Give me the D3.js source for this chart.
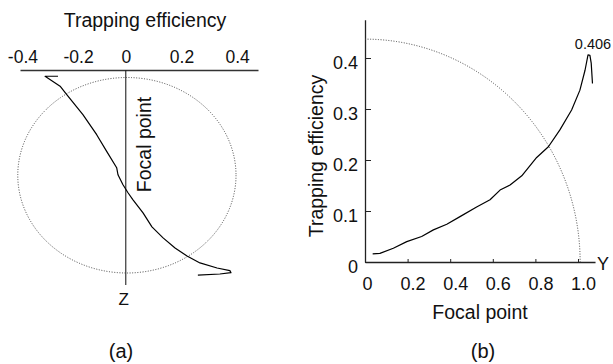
<!DOCTYPE html>
<html>
<head>
<meta charset="utf-8">
<script src="https://cdn.jsdelivr.net/npm/d3@7"></script>
<style>
  body { margin: 0; background: #fff; }
  svg text { font-family: "Liberation Sans", Arial, Helvetica, sans-serif; fill: #111; }
</style>
</head>
<body>
<svg id="chart" width="613" height="364"></svg>
<script>
// panel (a): trapping efficiency along the focal axis z
const aEff = [-0.2435, -0.290, -0.236, -0.212, -0.154, -0.1045, -0.0686, -0.0327, -0.028, -0.010, 0.008, 0.026, 0.062, 0.094, 0.134, 0.177, 0.220, 0.2665, 0.328, 0.374, 0.378, 0.338, 0.259]
const aZ = [-1.013, -1.013, -0.911, -0.826, -0.621, -0.415, -0.244, -0.077, -0.005, 0.097, 0.179, 0.251, 0.385, 0.528, 0.641, 0.744, 0.826, 0.897, 0.949, 0.976, 0.997, 1.010, 1.021]
const aTicks = [-0.4, -0.2, 0, 0.2, 0.4]
const aCircle = {cx: 0.004, rx: 0.392, ry: 1}

// panel (b): trapping efficiency vs focal point along Y
const bX = [0.036, 0.070, 0.133, 0.196, 0.266, 0.321, 0.384, 0.446, 0.524, 0.587, 0.634, 0.681, 0.736, 0.806, 0.861, 0.915, 0.970, 1.009, 1.033, 1.047, 1.056, 1.062, 1.068]
const bY = [0.016, 0.017, 0.027, 0.040, 0.050, 0.063, 0.074, 0.089, 0.108, 0.122, 0.141, 0.151, 0.169, 0.205, 0.226, 0.259, 0.298, 0.337, 0.376, 0.406, 0.405, 0.390, 0.350]
const bXTicks = [0, 0.2, 0.4, 0.6, 0.8, 1.0]
const bYTicks = [0, 0.1, 0.2, 0.3, 0.4]
const bArc = {rx: 1.01, ry: 0.437}
const peakLabel = "0.406"

let svg = d3.select("#chart")
// plain hyphen for the minus sign, like the original figure
let fmt = d => d === 0 ? "0" : d3.format(".1f")(d).replace("\u2212", "-")

// ---------- panel (a) ----------
let ax = d3.scaleLinear().domain([-0.38, 0.475]).range([20, 258])
let az = d3.scaleLinear().domain([-1, 1]).range([77.5, 273])

let gA = svg.append("g")

gA.append("g")
    .attr("transform", "translate(0,70)")
    .call(d3.axisTop(ax).tickValues(aTicks).tickSize(0).tickPadding(7).tickFormat(fmt))
    .call(g => g.select(".domain").attr("stroke", "#333").attr("stroke-width", 1.4))
    .call(g => g.selectAll("text")
        .style("font-size", "17.5px")
        .attr("font-family", null)
        .attr("dx", d => d < 0 ? 8 : 0))

gA.append("text")
    .attr("x", 145).attr("y", 27)
    .attr("text-anchor", "middle")
    .style("font-size", "19.5px")
    .text("Trapping efficiency")

// focal axis
gA.append("line")
    .attr("x1", ax(0)).attr("x2", ax(0))
    .attr("y1", 70).attr("y2", az(1.123))
    .attr("stroke", "#222").attr("stroke-width", 1.1)

gA.append("text")
    .attr("x", ax(0) - 2).attr("y", az(1.123) + 20)
    .attr("text-anchor", "middle")
    .style("font-size", "17px")
    .text("Z")

gA.append("text")
    .attr("transform", "translate(151,144.5) rotate(-90)")
    .attr("text-anchor", "middle")
    .style("font-size", "19.5px")
    .text("Focal point")

gA.append("ellipse")
    .attr("cx", ax(aCircle.cx)).attr("cy", az(0))
    .attr("rx", ax(aCircle.rx) - ax(0)).attr("ry", az(aCircle.ry) - az(0))
    .attr("fill", "none")
    .attr("stroke", "#444").attr("stroke-width", 1)
    .attr("stroke-dasharray", "1,1.6")

let lineA = d3.line()
    .x(i => ax(aEff[i]))
    .y(i => az(aZ[i]))

gA.append("path")
    .attr("d", lineA(d3.range(aEff.length)))
    .attr("fill", "none")
    .attr("stroke", "#000").attr("stroke-width", 1.2)
    .attr("stroke-linejoin", "round")

gA.append("text")
    .attr("x", 121).attr("y", 357.5)
    .attr("text-anchor", "middle")
    .style("font-size", "20px")
    .text("(a)")

// ---------- panel (b) ----------
let bx = d3.scaleLinear().domain([0, 1]).range([365, 578])
let by = d3.scaleLinear().domain([0, 0.4]).range([262, 58])

let gB = svg.append("g")

gB.append("g")
    .attr("transform", "translate(0," + by(0) + ")")
    .call(d3.axisBottom(bx.copy().domain([0, 1.08]).range([365, bx(1.08)]))
        .tickValues(bXTicks).tickSizeInner(-3).tickSizeOuter(0).tickPadding(15).tickFormat(fmt))
    .call(g => g.select(".domain").attr("stroke", "#222").attr("stroke-width", 1.3))
    .call(g => g.selectAll(".tick line").attr("stroke", "#222"))
    .call(g => g.selectAll("text").style("font-size", "18px").attr("font-family", null)
        .attr("dx", d => d === 0 ? 2 : 5))

gB.append("g")
    .attr("transform", "translate(" + bx(0) + ",0)")
    .call(d3.axisLeft(by.copy().domain([0, 0.475]).range([262, by(0.475)]))
        .tickValues(bYTicks).tickSizeInner(-6).tickSizeOuter(0).tickPadding(7).tickFormat(fmt))
    .call(g => g.select(".domain").attr("stroke", "#222").attr("stroke-width", 1.3))
    .call(g => g.selectAll(".tick line").attr("stroke", "#222"))
    .call(g => g.selectAll("text").style("font-size", "18px").attr("font-family", null).attr("dy", "0.58em"))

gB.append("text")
    .attr("x", bx(1.08) + 8).attr("y", by(0) + 8)
    .attr("text-anchor", "middle")
    .style("font-size", "18px")
    .text("Y")

gB.append("text")
    .attr("transform", "translate(323,156) rotate(-90)")
    .attr("text-anchor", "middle")
    .style("font-size", "19.5px")
    .text("Trapping efficiency")

gB.append("text")
    .attr("x", 480).attr("y", 319)
    .attr("text-anchor", "middle")
    .style("font-size", "19.5px")
    .text("Focal point")

// dotted quarter ellipse
let rxPx = bx(bArc.rx) - bx(0)
let ryPx = by(0) - by(bArc.ry)
gB.append("path")
    .attr("d", "M" + bx(0) + "," + by(bArc.ry) + " A" + rxPx + "," + ryPx + " 0 0 1 " + bx(bArc.rx) + "," + by(0))
    .attr("fill", "none")
    .attr("stroke", "#444").attr("stroke-width", 1)
    .attr("stroke-dasharray", "1,1.6")

let lineB = d3.line()
    .x(i => bx(bX[i]))
    .y(i => by(bY[i]))

gB.append("path")
    .attr("d", lineB(d3.range(bX.length)))
    .attr("fill", "none")
    .attr("stroke", "#000").attr("stroke-width", 1.2)
    .attr("stroke-linejoin", "round")

let peak = bY.indexOf(d3.max(bY))
gB.append("text")
    .attr("x", bx(bX[peak]) + 5).attr("y", by(bY[peak]) - 6)
    .attr("text-anchor", "middle")
    .style("font-size", "14.5px")
    .text(peakLabel)

gB.append("text")
    .attr("x", 483).attr("y", 357.5)
    .attr("text-anchor", "middle")
    .style("font-size", "20px")
    .text("(b)")
</script>
</body>
</html>
